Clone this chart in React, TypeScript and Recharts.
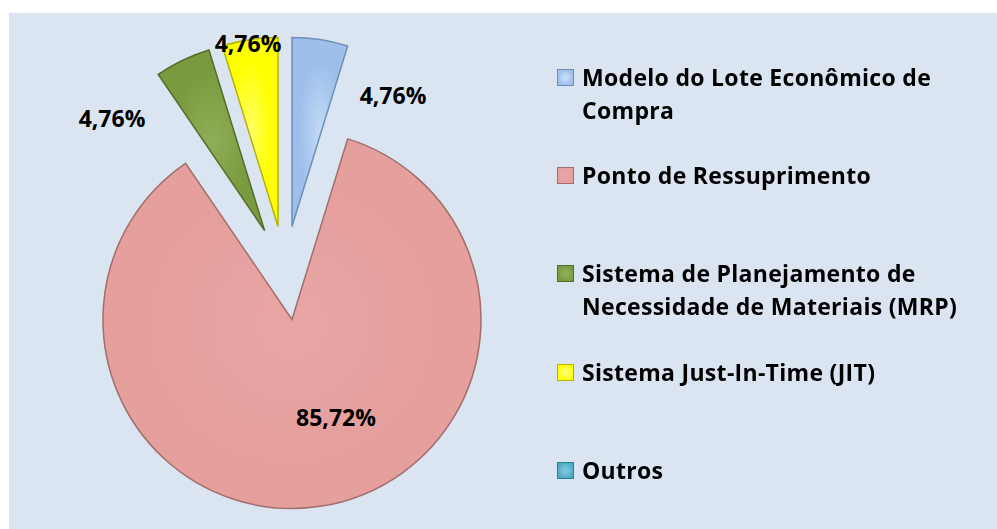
import { PieChart, Pie, Cell, Legend, Sector } from "recharts";

const names = [
  "Modelo do Lote Econômico de Compra",
  "Ponto de Ressuprimento",
  "Sistema de Planejamento de Necessidade de Materiais (MRP)",
  "Sistema Just-In-Time (JIT)",
  "Outros",
];
const shares = [4.76, 85.72, 4.76, 4.76, 0];

// slice styling: base fill, light highlight, edge stroke
const FILLS = ["#9dbfea", "#e59f9d", "#7a9a40", "#ffff00", "#4bacc6"];
const LIGHTS = ["#c2d9f6", "#e7a6a4", "#8fae55", "#ffff66", "#79c6da"];
const EDGES = ["#6e8fba", "#a06e6d", "#546c2a", "#b4b400", "#2f7f94"];

// best-fit label spots measured from the pie centre
const LABEL_OFFSETS = [
  [108, -178],
  [51, 144],
  [-173, -155],
  [-37, -230],
  [0, 0],
];

const EXPLODE = 47;
const RAD = Math.PI / 180;
const FONT = "'Open Sans', Lato, sans-serif";

const data = names.map((name, i) => ({ name, value: shares[i] }));

const ExplodedSector = (props: any) => {
  const { cx, cy, midAngle, index } = props;
  const dx = EXPLODE * Math.cos(-midAngle * RAD);
  const dy = EXPLODE * Math.sin(-midAngle * RAD);
  return (
    <Sector
      {...props}
      cx={cx + dx}
      cy={cy + dy}
      fill={`url(#slice-${index})`}
      stroke={EDGES[index]}
      strokeWidth={1.5}
    />
  );
};

const renderLabel = (props: any) => {
  const { cx, cy, index, value } = props;
  if (!value) return null;
  const [ox, oy] = LABEL_OFFSETS[index];
  return (
    <text
      x={cx + ox}
      y={cy + oy}
      textAnchor="middle"
      dominantBaseline="central"
      fill="#000"
      fontFamily={FONT}
      fontWeight={700}
      fontSize={23}
    >
      {value.toFixed(2).replace(".", ",")}%
    </text>
  );
};

const renderLegend = () => (
  <div
    style={{ fontFamily: FONT, fontWeight: 700, fontSize: 23, letterSpacing: 0.3, color: "#000" }}
  >
    {names.map((name, i) => (
      <div key={name} style={{ display: "flex", height: 98.2, alignItems: "flex-start" }}>
        <div
          style={{
            width: 15,
            height: 15,
            marginTop: 8,
            marginRight: 8,
            flexShrink: 0,
            border: `1px solid ${EDGES[i]}`,
            background: `radial-gradient(circle, ${LIGHTS[i]} 20%, ${FILLS[i]} 75%)`,
          }}
        />
        <div style={{ lineHeight: "33px", width: 405 }}>{name}</div>
      </div>
    ))}
  </div>
);

export default function App() {
  return (
    <div style={{ position: "fixed", left: 0, top: 0, width: 997, height: 529, background: "#fff" }}>
      <div
        style={{ position: "absolute", left: 9, top: 13, width: 988, height: 516, background: "#dbe5f1" }}
      />
      <div style={{ position: "absolute", left: 0, top: 0 }}>
        <PieChart width={997} height={529} margin={{ top: 0, right: 0, bottom: 0, left: 0 }}>
          <defs>
            {FILLS.map((c, i) => (
              <radialGradient key={i} id={`slice-${i}`} cx="50%" cy="50%" r="70%">
                <stop offset="0%" stopColor={LIGHTS[i]} />
                <stop offset="55%" stopColor={c} />
                <stop offset="100%" stopColor={c} />
              </radialGradient>
            ))}
          </defs>
          <Pie
            data={data}
            dataKey="value"
            nameKey="name"
            cx={285}
            cy={273}
            outerRadius={189}
            startAngle={90}
            endAngle={-270}
            shape={ExplodedSector}
            label={renderLabel}
            labelLine={false}
            isAnimationActive={false}
          >
            {data.map((d, i) => (
              <Cell key={d.name} fill={FILLS[i]} />
            ))}
          </Pie>
          <Legend
            content={renderLegend}
            wrapperStyle={{ left: 557, top: 61, right: "auto", width: 435 }}
          />
        </PieChart>
      </div>
    </div>
  );
}
